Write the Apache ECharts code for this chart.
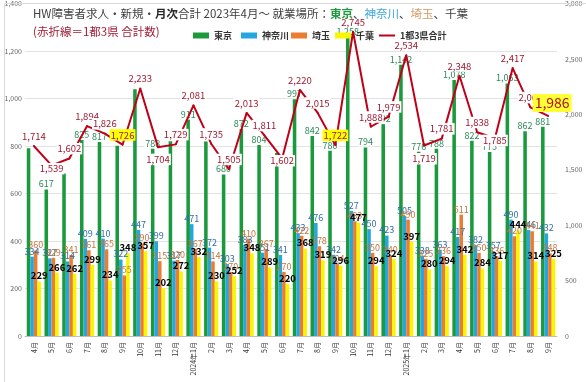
<!DOCTYPE html>
<html><head><meta charset="utf-8">
<script src="https://cdn.jsdelivr.net/npm/echarts@6/dist/echarts.min.js"></script>
<style>html,body{margin:0;padding:0;background:#fff}#c{width:586px;height:382px}</style>
</head><body><div id="c"></div>
<script>
const months = ['4月','5月','6月','7月','8月','9月','10月','11月','12月','2024年1月','2月','3月','4月','5月','6月','7月','8月','9月','10月','11月','12月','2025年1月','2月','3月','4月','5月','6月','7月','8月','9月'];
const tokyo    = [791,617,685,825,817,801,1039,788,820,911,819,680,872,804,771,997,842,780,1258,794,892,1142,776,788,1078,822,775,1063,862,881];
const kanagawa = [334,327,314,409,410,322,447,399,317,471,372,303,383,351,341,433,476,342,527,450,423,505,338,363,417,382,357,490,446,432];
const saitama  = [360,329,341,361,365,255,390,315,320,367,314,270,410,367,270,422,378,304,483,350,340,490,325,336,511,350,336,420,441,348];
const chiba    = [229,266,262,299,234,348,357,202,272,332,230,252,348,289,220,368,319,296,477,294,324,397,280,294,342,284,317,444,314,325];
const total    = [1714,1539,1602,1894,1826,1726,2233,1704,1729,2081,1735,1505,2013,1811,1602,2220,2015,1722,2745,1888,1979,2534,1719,1781,2348,1838,1785,2417,2063,1986];
const leftTicks = [0,200,400,600,800,1000,1200,1400];
const rightTicks = [0,500,1000,1500,2000,2500,3000];

const fmt = v => Number(v).toLocaleString('en-US');
const FONT = '"Noto Sans CJK JP","Noto Sans",sans-serif';
const hideTokyo = [0,2,5,6,8,14];
const yellowIdx = [5,17];
const bigIdx = 29;
const totalOffsets = {1:[0,13],7:[0,22],14:[0,12],22:[0,23],26:[0,12]};

const tokyoData = tokyo.map((v,i)=> hideTokyo.includes(i) ? {value:v,label:{show:false}} : v);
const totalData = total.map((v,i)=>{
  const o = {value:v, label:{}};
  if (totalOffsets[i]) o.label.offset = totalOffsets[i];
  if (yellowIdx.includes(i)) { o.label.backgroundColor = '#ffff00'; o.label.color='#9c1a2e'; }
  if (i===bigIdx) { o.label.backgroundColor = '#ffff33'; o.label.fontSize = 14; o.label.padding=[2,2]; o.label.color='#b0121e'; o.label.offset=[4,0]; }
  return o;
});

const chart = echarts.init(document.getElementById('c'), null, {renderer:'canvas'});
const barLabel = (color, extra) => Object.assign({show:true, position:'top', distance:1, fontSize:9, color:color, fontFamily:FONT, formatter: p=>fmt(p.value)}, extra||{});
const lg = (name, left, h) => ({data:[name], left:left, top:26, icon:'rect', itemWidth:16, itemHeight:h||6, itemGap:0, textStyle:{fontSize:9, fontWeight:'bold', color:'#333'}});

chart.setOption({
  animation:false,
  textStyle:{fontFamily:FONT},
  grid:{left:25, right:29, top:3, bottom:46},
  legend:[ lg('東京',188), lg('神奈川',236), lg('埼玉',286), lg('千葉',330), lg('1都3県合計',374,2) ],
  graphic:[
    {type:'rect', left:2, top:1, z:100, shape:{width:582, height:379}, style:{fill:'none', stroke:'#d9d9d9', lineWidth:1}, silent:true},
    {type:'text', left:33, top:8, z:100, style:{
      text:'{a|HW障害者求人・新規・}{b|月次}{a|合計 2023年4月～ 就業場所：}{g|東京}{a|、}{k|神奈川}{a|、}{s|埼玉}{a|、千葉}',
      rich:{
        a:{fontSize:11.5, fill:'#404040', fontFamily:FONT},
        b:{fontSize:11.5, fill:'#262626', fontWeight:'bold', fontFamily:FONT},
        g:{fontSize:11.5, fill:'#1f9a3f', fontWeight:'bold', fontFamily:FONT},
        k:{fontSize:11.5, fill:'#3aa6dc', fontFamily:FONT},
        s:{fontSize:11.5, fill:'#d49a66', fontFamily:FONT}
      }}},
    {type:'text', left:33, top:26, z:100, style:{text:'(赤折線＝1都3県 合計数)', fontSize:11.5, fill:'#a11d36', fontFamily:FONT}}
  ],
  xAxis:{type:'category', data:months,
    axisLine:{lineStyle:{color:'#bfbfbf'}}, axisTick:{show:false},
    axisLabel:{rotate:90, fontSize:7, color:'#333', interval:0, margin:6}},
  yAxis:[
    {type:'value', min:0, max:1400, interval:200,
      axisLabel:{fontSize:7, color:'#666', margin:3, formatter:v=>fmt(v)},
      splitLine:{lineStyle:{color:'#e3e3e3'}}, axisLine:{show:false}, axisTick:{show:false}},
    {type:'value', min:0, max:3000, interval:500,
      axisLabel:{fontSize:7, color:'#666', margin:8, formatter:v=>fmt(v)},
      splitLine:{show:false}, axisLine:{show:false}, axisTick:{show:false}}
  ],
  series:[
    {name:'東京', type:'bar', data:tokyoData, barGap:'0%', barCategoryGap:'20%', itemStyle:{color:'#1a9a3c'},
      label:barLabel('#2a8a55',{backgroundColor:'#fff', padding:[0,1]})},
    {name:'神奈川', type:'bar', data:kanagawa, itemStyle:{color:'#25a6e0'}, label:barLabel('#2f6ea8')},
    {name:'埼玉', type:'bar', data:saitama, itemStyle:{color:'#ec7c30'}, label:barLabel('#c8733a')},
    {name:'千葉', type:'bar', data:chiba, itemStyle:{color:'#f7f700'}, label:barLabel('#000',{fontWeight:'bold', fontSize:9.5})},
    {name:'1都3県合計', type:'line', yAxisIndex:1, data:totalData, symbol:'circle', symbolSize:2, z:5,
      itemStyle:{color:'#c00018'}, lineStyle:{color:'#c00018', width:2},
      label:{show:true, position:'top', distance:3, fontSize:9.5, color:'#a01a30', backgroundColor:'#fff', padding:[1,1], formatter:p=>fmt(p.value)}}
  ]
});
</script></body></html>
